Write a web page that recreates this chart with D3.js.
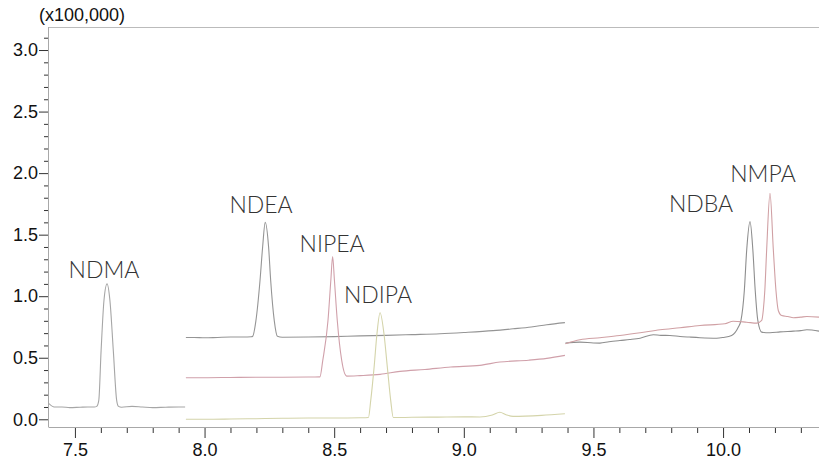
<!DOCTYPE html>
<html>
<head>
<meta charset="utf-8">
<script src="https://cdn.jsdelivr.net/npm/d3@7"></script>
<style>
  html, body { margin: 0; padding: 0; background: #fff; }
  svg { display: block; }
</style>
</head>
<body>
<svg id="chart" width="819" height="466"></svg>
<script>
// ---- data: [retention time (min), intensity (x100,000)] ----
const ndma = [[7.40,0.127],[7.42,0.10],[7.45,0.10],[7.48,0.095],[7.52,0.098],[7.55,0.10],[7.575,0.10],[7.584,0.105],[7.592,0.154],[7.601,0.56],[7.612,0.965],[7.624,1.10],[7.635,0.965],[7.648,0.56],[7.661,0.154],[7.668,0.105],[7.68,0.098],[7.72,0.105],[7.76,0.10],[7.80,0.095],[7.85,0.098],[7.90,0.10],[7.925,0.10]];
const ndea = [[7.928,0.665],[7.96,0.665],[8.00,0.662],[8.05,0.665],[8.10,0.668],[8.15,0.668],[8.18,0.67],[8.186,0.675],[8.198,0.80],[8.214,1.13],[8.224,1.40],[8.234,1.60],[8.247,1.40],[8.255,1.13],[8.269,0.80],[8.281,0.675],[8.30,0.667],[8.40,0.668],[8.50,0.672],[8.60,0.678],[8.70,0.682],[8.80,0.688],[8.908,0.695],[9.00,0.705],[9.113,0.72],[9.19,0.735],[9.26,0.75],[9.32,0.768],[9.39,0.785]];
const nipea = [[7.928,0.338],[8.00,0.338],[8.10,0.340],[8.20,0.342],[8.30,0.342],[8.40,0.343],[8.445,0.345],[8.456,0.478],[8.476,0.80],[8.487,1.127],[8.494,1.322],[8.501,1.127],[8.512,0.80],[8.529,0.478],[8.548,0.351],[8.60,0.355],[8.677,0.365],[8.754,0.389],[8.85,0.405],[8.95,0.425],[9.062,0.438],[9.139,0.465],[9.25,0.48],[9.32,0.495],[9.39,0.519]];
const ndipa = [[7.928,0.0],[8.00,0.0],[8.10,0.002],[8.20,0.005],[8.30,0.008],[8.40,0.01],[8.50,0.01],[8.60,0.012],[8.632,0.014],[8.641,0.154],[8.654,0.424],[8.665,0.695],[8.677,0.865],[8.692,0.695],[8.705,0.424],[8.718,0.154],[8.728,0.014],[8.80,0.016],[8.90,0.018],[9.00,0.02],[9.062,0.019],[9.11,0.035],[9.139,0.057],[9.165,0.035],[9.19,0.024],[9.30,0.032],[9.39,0.045]];
const ndba = [[9.392,0.619],[9.448,0.627],[9.50,0.62],[9.525,0.619],[9.56,0.63],[9.602,0.64],[9.64,0.648],[9.68,0.659],[9.731,0.687],[9.76,0.682],[9.795,0.681],[9.834,0.673],[9.87,0.668],[9.911,0.663],[9.975,0.659],[10.00,0.665],[10.033,0.681],[10.059,0.749],[10.069,0.803],[10.082,1.046],[10.091,1.371],[10.104,1.606],[10.115,1.371],[10.124,1.046],[10.134,0.803],[10.149,0.708],[10.181,0.703],[10.22,0.71],[10.271,0.716],[10.30,0.72],[10.323,0.727],[10.37,0.716]];
const nmpa = [[9.392,0.614],[9.448,0.646],[9.525,0.663],[9.602,0.681],[9.68,0.703],[9.757,0.727],[9.834,0.744],[9.911,0.762],[10.007,0.776],[10.039,0.797],[10.091,0.789],[10.13,0.781],[10.149,0.803],[10.155,0.884],[10.161,1.046],[10.168,1.371],[10.181,1.835],[10.194,1.371],[10.204,1.046],[10.213,0.884],[10.226,0.843],[10.25,0.835],[10.271,0.825],[10.30,0.83],[10.323,0.835],[10.37,0.83]];

const seriesNames  = ["NDMA","NDEA","NIPEA","NDIPA","NDBA","NMPA"];
const seriesData   = [ndma, ndea, nipea, ndipa, ndba, nmpa];
const seriesColors = ["#a6a6a6","#959595","#d0a0aa","#d4d4aa","#8e8e8e","#d0a0a4"];
// peak label anchor (centre of baseline) in data units
const labelTimes  = [7.612, 8.218, 8.492, 8.669, 9.915, 10.154];
const labelValues = [1.148, 1.676, 1.359, 0.945, 1.684, 1.928];

const xMajor = [7.5, 8.0, 8.5, 9.0, 9.5, 10.0];
const xMinor = d3.range(75, 104).map(d => d / 10);
const yMajor = [0.0, 0.5, 1.0, 1.5, 2.0, 2.5, 3.0];
const yMinor = d3.range(0, 32).map(d => d / 10);
const yUnitLabel = "(x100,000)";

// ---- drawing ----
(function () {
const svg = d3.select("#chart");
const mLeft = 49, mRight = 819, mTop = 27, mBottom = 427;

const x = d3.scaleLinear().domain([7.4, 10.37]).range([mLeft, mRight]);
const y = d3.scaleLinear().domain([-0.0626, 3.187]).range([mBottom, mTop]);

const fontAxis = "'Liberation Sans', Arial, sans-serif";

// minor ticks
const gxm = svg.append("g").attr("transform", `translate(0,${mBottom})`)
  .call(d3.axisBottom(x).tickValues(xMinor.filter(v => xMajor.every(m => Math.abs(m - v) > 1e-6))).tickSize(6).tickFormat(""));
const gym = svg.append("g").attr("transform", `translate(${mLeft},0)`)
  .call(d3.axisLeft(y).tickValues(yMinor.filter(v => yMajor.every(m => Math.abs(m - v) > 1e-6))).tickSize(5).tickFormat(""));
// major ticks
const gx = svg.append("g").attr("transform", `translate(0,${mBottom})`)
  .call(d3.axisBottom(x).tickValues(xMajor).tickSize(11).tickPadding(5).tickFormat(d3.format(".1f")));
const gy = svg.append("g").attr("transform", `translate(${mLeft},0)`)
  .call(d3.axisLeft(y).tickValues(yMajor).tickSize(10).tickPadding(1).tickFormat(d3.format(".1f")));

[gxm, gym, gx, gy].forEach(g => {
  g.select(".domain").remove();
  g.selectAll(".tick line").attr("stroke", "#333").attr("stroke-width", 1);
  g.selectAll(".tick text").attr("fill", "#111").style("font-family", fontAxis).style("font-size", "18px");
});

// frame lines
svg.append("line").attr("x1", mLeft).attr("x2", mRight).attr("y1", mTop + 0.5).attr("y2", mTop + 0.5)
  .attr("stroke", "#bbbbbb");
svg.append("line").attr("x1", mLeft - 0.5).attr("x2", mLeft - 0.5).attr("y1", mTop).attr("y2", mBottom + 0.5)
  .attr("stroke", "#a8a8a8");
svg.append("line").attr("x1", mLeft).attr("x2", mRight).attr("y1", mBottom + 0.5).attr("y2", mBottom + 0.5)
  .attr("stroke", "#a8a8a8");

svg.append("text").attr("x", 39).attr("y", 21).text(yUnitLabel)
  .attr("fill", "#111").style("font-family", fontAxis).style("font-size", "18px");

// traces
const line = d3.line().x(d => x(d[0])).y(d => y(d[1])).curve(d3.curveMonotoneX);
seriesData.forEach((s, i) => {
  svg.append("path").datum(s).attr("d", line)
    .attr("fill", "none").attr("stroke", seriesColors[i]).attr("stroke-width", 1.1);
});

// peak labels
seriesNames.forEach((n, i) => {
  svg.append("text").attr("x", x(labelTimes[i])).attr("y", y(labelValues[i]))
    .attr("text-anchor", "middle").text(n)
    .attr("fill", "#333")
    .style("font-family", "Lato, 'Noto Sans', sans-serif")
    .style("font-weight", 300)
    .style("font-size", "23px");
});
})();
</script>
</body>
</html>
